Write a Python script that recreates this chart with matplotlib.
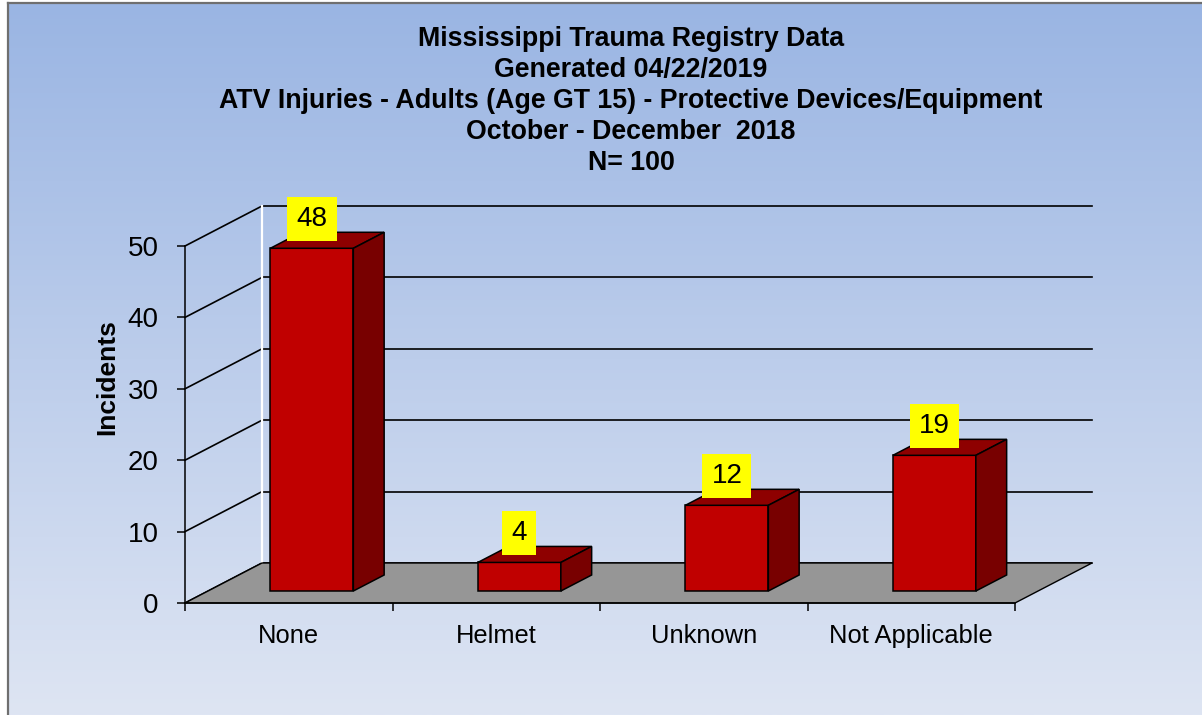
import numpy as np
import matplotlib
matplotlib.use('Agg')
import matplotlib.pyplot as plt
from matplotlib.patches import Polygon

# ---------------- data ----------------
categories = ['None', 'Helmet', 'Unknown', 'Not Applicable']
values = [48, 4, 12, 19]
y_ticks = [0, 10, 20, 30, 40, 50]
title_lines = [
    'Mississippi Trauma Registry Data',
    'Generated 04/22/2019',
    'ATV Injuries - Adults (Age GT 15) - Protective Devices/Equipment',
    'October - December  2018',
    'N= 100',
]
y_label = 'Incidents'

plt.rcParams['font.family'] = ['Liberation Sans', 'DejaVu Sans']

W, H = 1202, 715
fig = plt.figure(figsize=(W / 100, H / 100), dpi=100)
fig.patch.set_facecolor('white')

# ---------------- background (gradient chart area) ----------------
bg = fig.add_axes([0, 0, 1, 1])
top_c = np.array([154, 181, 227]) / 255
bot_c = np.array([222, 229, 243]) / 255
t = np.linspace(0, 1, 256)[:, None]
grad = top_c + (bot_c - top_c) * t
bg.imshow(grad[:, None, :], extent=(8, W, H, 3), aspect='auto', origin='upper', zorder=0)
bg.plot([7.5, 7.5], [2.5, H], color='#6f6f6f', lw=1.6, zorder=1)
bg.plot([7.5, W], [2.5, 2.5], color='#6f6f6f', lw=1.6, zorder=1)
bg.set_xlim(0, W)
bg.set_ylim(H, 0)
bg.axis('off')

# title lines (baselines measured in pixels)
baselines = [46.5, 77.5, 108.5, 139, 169.5]
for line, yb in zip(title_lines, baselines):
    bg.text(631, yb, line, ha='center', va='baseline', fontsize=19.3,
            fontweight='bold', color='black')

# ---------------- main (pseudo-3D) axes ----------------
ax = fig.add_axes([185 / W, (H - 603) / H, 830 / W, 357 / H])
ax.set_xlim(0, len(categories))
ax.set_ylim(0, 50)
ax.patch.set_alpha(0)

DX = 77 / (830 / len(categories))   # depth offset in category units
DY = 40 * 50 / 357                  # depth offset in value units


def P(x, y, d):
    return (x + d * DX, y + d * DY)


LW_GRID = 1.2
# left wall diagonals and back wall gridlines
for tv in y_ticks:
    ax.plot([0, DX], [tv, tv + DY], color='black', lw=LW_GRID, clip_on=False, zorder=2)
    ax.plot([DX, len(categories) + DX], [tv + DY, tv + DY], color='black',
            lw=LW_GRID, clip_on=False, zorder=2)
# back-left corner edge (light)
ax.plot([DX, DX], [DY, 50 + DY], color='white', lw=1.6, clip_on=False, zorder=2)

# floor
n = len(categories)
floor = Polygon([P(0, 0, 0), P(n, 0, 0), P(n, 0, 1), P(0, 0, 1)], closed=True,
                facecolor='#969696', edgecolor='black', lw=1.0, clip_on=False, zorder=3)
ax.add_patch(floor)

# bars
d0, d1 = 0.3, 0.7
bw = 0.4
for i, v in enumerate(values):
    x0 = i + 0.5 - bw / 2
    x1 = i + 0.5 + bw / 2
    front = [P(x0, 0, d0), P(x1, 0, d0), P(x1, v, d0), P(x0, v, d0)]
    top = [P(x0, v, d0), P(x1, v, d0), P(x1, v, d1), P(x0, v, d1)]
    side = [P(x1, 0, d0), P(x1, 0, d1), P(x1, v, d1), P(x1, v, d0)]
    for pts, fc in ((front, '#C00000'), (top, '#8E0000'), (side, '#780000')):
        ax.add_patch(Polygon(pts, closed=True, facecolor=fc, edgecolor='black',
                             lw=1.1, joinstyle='miter', clip_on=False, zorder=4))
    ax.annotate(str(v), xy=P(i + 0.5, v, d0), xytext=(0, 11.7), textcoords='offset points',
                ha='center', va='bottom', fontsize=20, color='black', zorder=6,
                annotation_clip=False,
                bbox=dict(boxstyle='square,pad=0.33', facecolor='#FFFF00', edgecolor='none'))

# axes: spines, ticks
for s in ('top', 'right'):
    ax.spines[s].set_visible(False)
ax.spines['left'].set_linewidth(1.1)
ax.spines['bottom'].set_linewidth(1.1)
ax.spines['left'].set_zorder(5)
ax.spines['bottom'].set_zorder(5)

ax.set_yticks(y_ticks)
ax.set_yticklabels([str(v) for v in y_ticks])
ax.tick_params(axis='y', direction='out', length=6, width=1.1, pad=13, labelsize=20)

ax.set_xticks(range(n + 1))
ax.set_xticklabels([''] * (n + 1))
ax.set_xticks([i + 0.5 for i in range(n)], minor=True)
ax.set_xticklabels(categories, minor=True)
ax.tick_params(axis='x', which='major', direction='out', length=6, width=1.1)
ax.tick_params(axis='x', which='minor', length=0, pad=15, labelsize=18.4)

ax.set_ylabel(y_label, fontsize=19, fontweight='bold')
ax.yaxis.set_label_coords((107 - 185) / 830, (603 - 377.5) / 357)
ax.yaxis.label.set_va('center')

fig.savefig('out.png', dpi=100, facecolor='white')
